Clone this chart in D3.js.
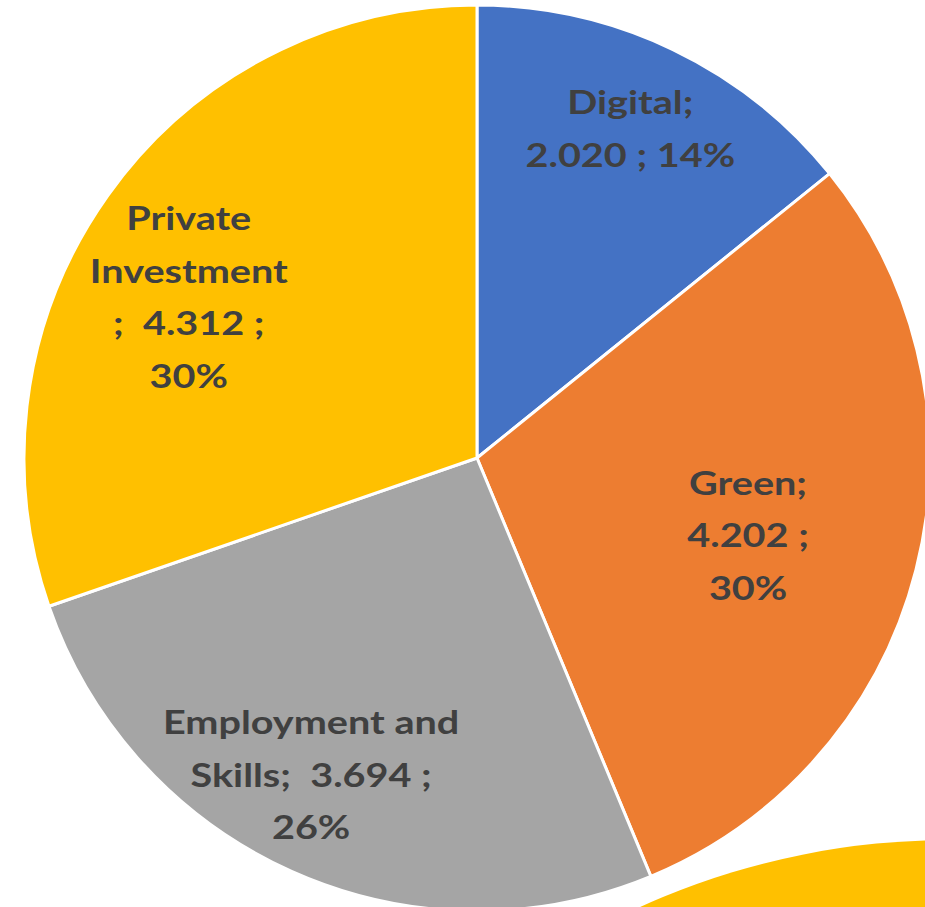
<!DOCTYPE html>
<html>
<head>
<meta charset="utf-8">
<script src="https://cdn.jsdelivr.net/npm/d3@7"></script>
<style>
  body { margin: 0; background: #fff; }
  svg { display: block; }
  .lbl { font-family: Lato, "Open Sans", sans-serif; font-weight: bold; font-size: 33px; fill: #404040; white-space: pre; }
</style>
</head>
<body>
<div class="chart"></div>
<script>
// budget split
var categories = ["Digital", "Green", "Employment and Skills", "Private Investment"];
var values = [2020, 4202, 3694, 4312];
var percents = ["14%", "30%", "26%", "30%"];
var colors = ["#4472C4", "#ED7D31", "#A5A5A5", "#FFC000"];

var svgWidth = 925;
var svgHeight = 907;
var cx = 477, cy = 458, radius = 453;

var svg = d3.select(".chart")
    .append("svg")
    .attr("width", svgWidth)
    .attr("height", svgHeight);

// piece of the next pie peeking in at the bottom right
svg.append("circle")
    .attr("cx", 950)
    .attr("cy", 1590)
    .attr("r", 750)
    .attr("fill", "#FFC000");

var chart = svg.append("g")
    .attr("transform", "translate(" + cx + "," + cy + ")");

var data = categories.map(function(c, i) {
    return { name: c, value: values[i], pct: percents[i], color: colors[i] };
});

var pie = d3.pie()
    .sort(null)
    .value(function(d) { return d.value; });

var arc = d3.arc().innerRadius(0).outerRadius(radius);

var arcs = pie(data);

chart.selectAll("path")
    .data(arcs)
    .enter()
    .append("path")
    .attr("d", arc)
    .attr("fill", function(d) { return d.data.color; })
    .attr("stroke", "#fff")
    .attr("stroke-width", 3)
    .attr("stroke-linejoin", "round");

var fmt = d3.formatLocale({ decimal: ",", thousands: ".", grouping: [3], currency: ["", ""] }).format(",");

// label lines broken the way the original wraps them
function labelLines(d) {
    var v = fmt(d.value);
    if (d.name === "Digital") return ["Digital;", v + " ; " + d.pct];
    if (d.name === "Green") return ["Green;", v + " ;", d.pct];
    if (d.name === "Employment and Skills") return ["Employment and", "Skills;  " + v + " ;", d.pct];
    return ["Private", "Investment", ";  " + v + " ;", d.pct];
}

// distance of each label block from the centre
var labelDist = { "Digital": 363, "Green": 282, "Employment and Skills": 358, "Private Investment": 330 };
var labelTurn = { "Digital": -0.01, "Green": 0.03, "Employment and Skills": 0.06, "Private Investment": -0.11 };
var lineH = 52.5;

var labels = chart.selectAll("g.label")
    .data(arcs)
    .enter()
    .append("g")
    .attr("class", "label")
    .attr("transform", function(d) {
        var a = (d.startAngle + d.endAngle) / 2 + labelTurn[d.data.name];
        var r = labelDist[d.data.name];
        return "translate(" + (Math.sin(a) * r) + "," + (-Math.cos(a) * r) + ") scale(1.2,1)";
    });

labels.each(function(d) {
    var lines = labelLines(d.data);
    var g = d3.select(this);
    var top = -(lines.length - 1) * lineH / 2;
    lines.forEach(function(t, i) {
        g.append("text")
            .attr("class", "lbl")
            .attr("text-anchor", "middle")
            .attr("dy", "0.35em")
            .attr("y", top + i * lineH)
            .text(t);
    });
});
</script>
</body>
</html>
